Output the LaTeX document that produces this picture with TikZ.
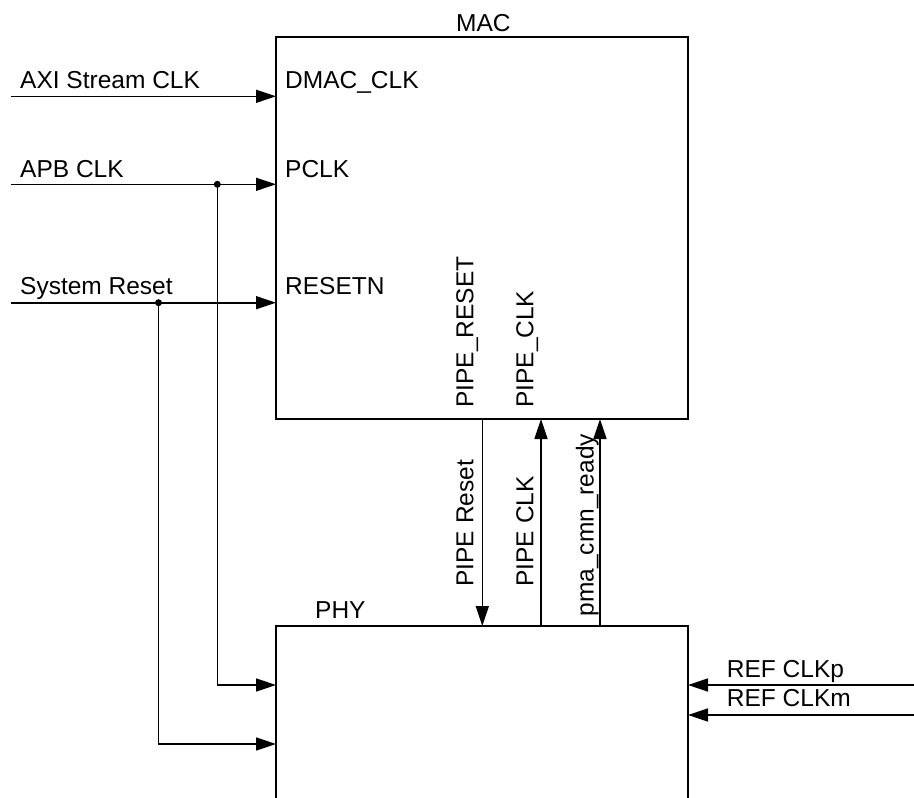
\documentclass[tikz,border=0pt]{standalone}
\usepackage{fontspec}
\setmainfont{Liberation Sans}
\usetikzlibrary{arrows.meta}
\begin{document}
\begin{tikzpicture}[x=1pt,y=-1pt,
  wire/.style={line width=1.6pt},
  arr/.style={wire,-{Triangle[length=20pt,width=13pt]}},
  blk/.style={draw,line width=1.6pt,inner sep=0,outer sep=0,minimum width=412pt},
  lbl/.style={inner sep=0,anchor=base west,font=\fontsize{24.5}{28}\selectfont},
  vlbl/.style={lbl,rotate=90},
  jdot/.style={circle,fill,inner sep=0,outer sep=0,minimum size=7pt}]
\clip (0,0) rectangle (914,798);
\fill[white] (0,0) rectangle (914,798);
% blocks
\node[blk,minimum height=382pt] (mac) at (482,228) {};
\node[blk,minimum height=274pt] (phy) at (482,763) {};
\node[lbl] (macL) at (456,31.7) {MAC};
\node[lbl] (phyL) at (315,618.3) {PHY};
% inputs to MAC
\coordinate (axiS) at (11,96.3);
\coordinate (apbS) at (11,184.3);
\coordinate (rstS) at (11,302.7);
\node[jdot] (jA) at (217.3,184.3) {};
\node[jdot] (jR) at (158.5,302.7) {};
\coordinate (pA) at (276,685);
\coordinate (pR) at (276,744);
\draw[arr] (axiS) -- (axiS -| mac.west);
\draw[arr] (apbS) -- (apbS -| mac.west);
\draw[arr] (rstS) -- (rstS -| mac.west);
\draw[arr] (jA.center) |- (pA -| phy.west);
\draw[arr] (jR.center) |- (pR -| phy.west);
\node[lbl] (axiL) at (20,88) {AXI Stream CLK};
\node[lbl] (apbL) at (20,177.7) {APB CLK};
\node[lbl] (rstL) at (20,294.7) {System Reset};
\node[lbl] (dmacL) at (285,88.3) {DMAC\_CLK};
\node[lbl] (pclkL) at (285,177.7) {PCLK};
\node[lbl] (resetnL) at (285,294.7) {RESETN};
% MAC <-> PHY
\coordinate (xr) at (482.3,0);
\coordinate (xc) at (541,0);
\coordinate (xp) at (600,0);
\draw[arr] (mac.south -| xr) -- (phy.north -| xr);
\draw[arr] (phy.north -| xc) -- (mac.south -| xc);
\draw[arr] (phy.north -| xp) -- (mac.south -| xp);
\node[vlbl] (pipeResetIn) at (473.3,408) {PIPE\_RESET};
\node[vlbl] (pipeClkIn) at (533.3,408) {PIPE\_CLK};
\node[vlbl] (pipeResetW) at (473.3,586.7) {PIPE Reset};
\node[vlbl] (pipeClkW) at (533.3,586.7) {PIPE CLK};
\node[vlbl] (pmaW) at (593.5,616.7) {pma\_cmn\_ready};
% REF clocks
\coordinate (refp) at (914,685);
\coordinate (refm) at (914,715);
\draw[arr] (refp) -- (refp -| phy.east);
\draw[arr] (refm) -- (refm -| phy.east);
\node[lbl] (refpL) at (726.7,677.3) {REF CLKp};
\node[lbl] (refmL) at (726.7,706.7) {REF CLKm};
\end{tikzpicture}
\end{document}
